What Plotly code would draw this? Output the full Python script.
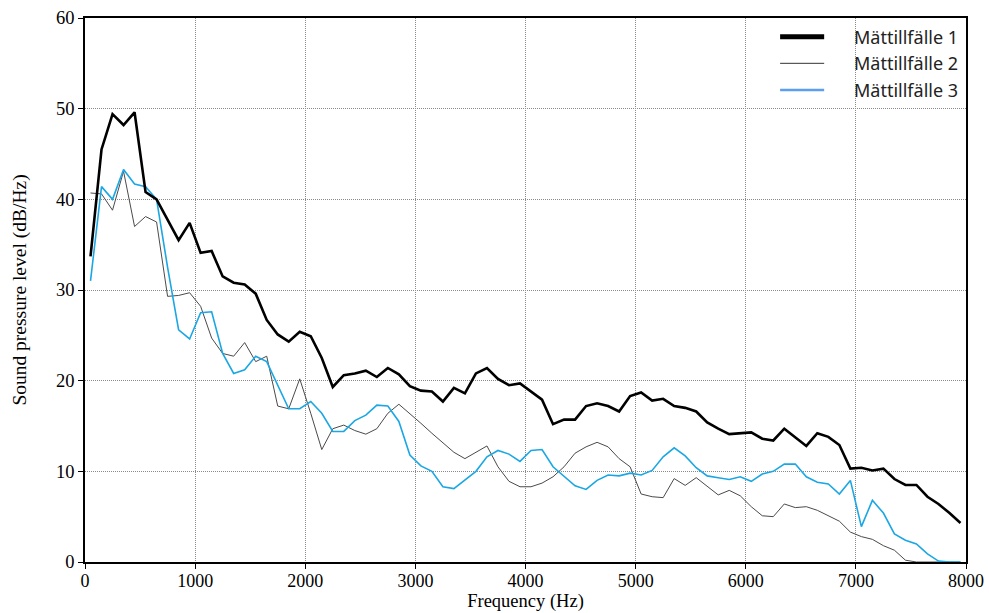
import plotly.graph_objects as go

# Frequency bins (Hz), 100 Hz wide, centred at 50, 150, ... 7950
freq_hz = [50 + 100 * i for i in range(80)]

# Sound pressure level (dB/Hz) per measurement occasion
spl_occasion_1 = [33.7, 45.5, 49.4, 48.2, 49.6, 40.8, 40.0, 37.7, 35.5, 37.4,
                  34.1, 34.3, 31.5, 30.8, 30.6, 29.6, 26.7, 25.1, 24.3, 25.4,
                  24.9, 22.5, 19.3, 20.6, 20.8, 21.1, 20.4, 21.4, 20.7, 19.4,
                  18.9, 18.8, 17.7, 19.2, 18.6, 20.8, 21.4, 20.2, 19.5, 19.7,
                  18.8, 17.9, 15.2, 15.7, 15.7, 17.2, 17.5, 17.2, 16.6, 18.3,
                  18.7, 17.8, 18.0, 17.2, 17.0, 16.6, 15.4, 14.7, 14.1, 14.2,
                  14.3, 13.6, 13.4, 14.7, 13.7, 12.8, 14.2, 13.8, 12.9, 10.3,
                  10.4, 10.1, 10.3, 9.15, 8.5, 8.5, 7.2, 6.4, 5.4, 4.3]

spl_occasion_2 = [40.7, 40.6, 38.8, 43.1, 37.0, 38.1, 37.5, 29.3, 29.4, 29.7,
                  28.2, 24.7, 23.0, 22.7, 24.2, 22.1, 22.7, 17.2, 16.9, 20.2,
                  16.4, 12.4, 14.7, 15.1, 14.5, 14.1, 14.7, 16.4, 17.4, 16.4,
                  15.3, 14.2, 13.2, 12.1, 11.4, 12.1, 12.8, 10.5, 8.9, 8.3,
                  8.3, 8.7, 9.4, 10.5, 12.0, 12.7, 13.2, 12.7, 11.4, 10.5,
                  7.5, 7.2, 7.1, 9.2, 8.45, 9.3, 8.3, 7.4, 7.9, 7.3,
                  6.1, 5.1, 5.0, 6.4, 6.0, 6.1, 5.7, 5.1, 4.5, 3.3,
                  2.8, 2.5, 1.8, 1.3, 0.2, 0.0, 0.0, 0.0, 0.0, 0.0]

spl_occasion_3 = [31.0, 41.4, 40.0, 43.3, 41.7, 41.4, 40.0, 32.5, 25.6, 24.6,
                  27.5, 27.6, 23.0, 20.8, 21.2, 22.7, 22.1, 19.4, 16.9, 16.9,
                  17.7, 16.4, 14.4, 14.4, 15.6, 16.2, 17.3, 17.2, 15.5, 11.8,
                  10.6, 10.0, 8.3, 8.1, 9.1, 10.0, 11.6, 12.3, 11.9, 11.1,
                  12.3, 12.4, 10.5, 9.4, 8.4, 8.0, 9.0, 9.6, 9.5, 9.8,
                  9.6, 10.1, 11.6, 12.6, 11.7, 10.4, 9.5, 9.3, 9.1, 9.4,
                  8.9, 9.7, 10.0, 10.8, 10.8, 9.4, 8.8, 8.6, 7.5, 9.0,
                  3.9, 6.8, 5.4, 3.1, 2.4, 2.0, 0.9, 0.1, 0.0, 0.0]

series_names = ["Mättillfälle 1", "Mättillfälle 2", "Mättillfälle 3"]

x_ticks = [0, 1000, 2000, 3000, 4000, 5000, 6000, 7000, 8000]
y_ticks = [0, 10, 20, 30, 40, 50, 60]

serif = "Liberation Serif, Times New Roman, serif"
sans = "Noto Sans, Open Sans, sans-serif"

fig = go.Figure()

# Curves: occasion 2 and 3 first, occasion 1 on top
curve_styles = {
    1: dict(color="#000000", width=2.6),
    2: dict(color="#4a4a4a", width=1),
    3: dict(color="#1ba7e3", width=1.6),
}
curve_values = {1: spl_occasion_1, 2: spl_occasion_2, 3: spl_occasion_3}
for k in (2, 3, 1):
    fig.add_trace(go.Scatter(x=freq_hz, y=curve_values[k], mode="lines",
                             name=series_names[k - 1], line=curve_styles[k],
                             showlegend=False))

# Key in the upper-right corner: sample line + label per occasion
key_styles = [dict(color="#000000", width=5),
              dict(color="#333333", width=1),
              dict(color="#5e9ef0", width=2.5)]
key_x0, key_x1, key_text_x = 0.789, 0.839, 0.871   # paper fractions
key_rows = [0.9655, 0.9167, 0.8676]
shapes, annotations = [], []
for name, style, yrow in zip(series_names, key_styles, key_rows):
    shapes.append(dict(type="line", xref="paper", yref="paper",
                       x0=key_x0, x1=key_x1, y0=yrow, y1=yrow, line=style))
    annotations.append(dict(xref="paper", yref="paper", x=key_text_x, y=yrow,
                            xanchor="left", yanchor="middle", showarrow=False,
                            text=name, font=dict(family=sans, size=18, color="#222")))

fig.update_layout(
    width=989, height=613,
    margin=dict(l=85, r=23, t=18, b=51),
    paper_bgcolor="white", plot_bgcolor="white",
    font=dict(family=serif, size=18, color="black"),
    showlegend=False,
    shapes=shapes, annotations=annotations,
)

grid = dict(showgrid=True, gridcolor="#8a8a8a", gridwidth=1, griddash="1px,1px")
fig.update_xaxes(
    range=[0, 8000], tickvals=x_ticks, ticktext=[str(v) for v in x_ticks],
    showline=True, linecolor="black", linewidth=1.6, mirror=True,
    ticks="outside", ticklen=5, tickcolor="black", tickwidth=1.4,
    zeroline=False, automargin=False, ticklabelstandoff=-3, **grid,
    tickfont=dict(family=serif, size=18),
    title=dict(text="Frequency (Hz)", font=dict(family=serif, size=18.5), standoff=4),
)
fig.update_yaxes(
    range=[0, 60], tickvals=y_ticks,
    showline=True, linecolor="black", linewidth=1.6, mirror=True,
    ticks="outside", ticklen=5, tickcolor="black", tickwidth=1.4,
    zeroline=False, automargin=False, **grid,
    tickfont=dict(family=serif, size=18.5),
    title=dict(text="Sound pressure level (dB/Hz)", font=dict(family=serif, size=19.5), standoff=24),
)

fig.write_html("out.html")
